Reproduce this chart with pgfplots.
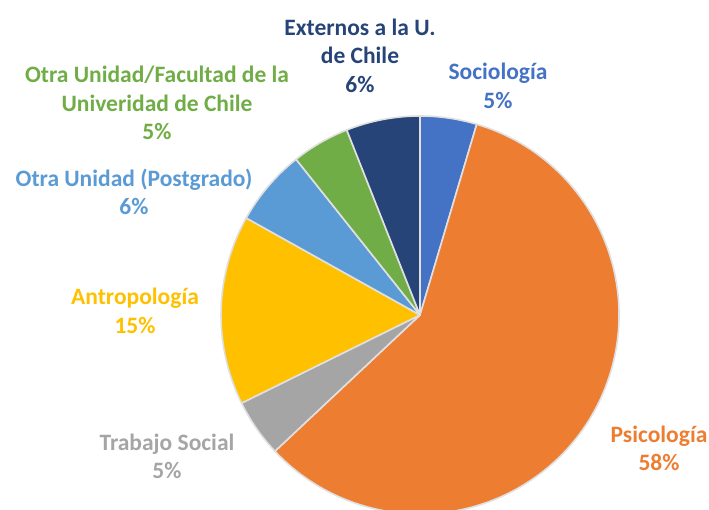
\documentclass[border=0pt]{standalone}
\usepackage{fontspec}
\setmainfont{Carlito}
\usepackage{pgfplots}
\usepackage{pgfplotstable}
\pgfplotsset{compat=1.18}
\definecolor{c1}{HTML}{4472C4}
\definecolor{c2}{HTML}{ED7D31}
\definecolor{c3}{HTML}{A5A5A5}
\definecolor{c4}{HTML}{FFC000}
\definecolor{c5}{HTML}{5B9BD5}
\definecolor{c6}{HTML}{70AD47}
\definecolor{c7}{HTML}{264478}
\pgfplotstableread{
pct  color
4.6  c1
58.4 c2
4.7  c3
15.4 c4
6.2  c5
4.7  c6
6.0  c7
}\piedata
\begin{document}
\begin{tikzpicture}
\begin{axis}[scale only axis, width=709pt, height=510pt,
  xmin=0, xmax=709, ymin=0, ymax=510, hide axis, clip=true]
\def\cum{0}
\pgfplotsforeachungrouped \i in {0,...,6}{%
  \pgfplotstablegetelem{\i}{pct}\of\piedata \let\p\pgfplotsretval
  \pgfplotstablegetelem{\i}{color}\of\piedata \let\c\pgfplotsretval
  \pgfmathsetmacro\a{90-3.6*\cum}%
  \pgfmathsetmacro\b{90-3.6*(\cum+\p)}%
  \pgfmathsetmacro\cum{\cum+\p}%
  \edef\temp{\noexpand\fill[\c, draw=white!88!black, line width=1.6pt, line join=round] (axis cs:420,195) -- (axis cs:{420+199*cos(\a)},{195+199*sin(\a)}) arc[start angle=\a, end angle=\b, radius=199pt] -- cycle;}%
  \temp
}
\tikzset{lab/.style={font=\fontsize{23.5}{28.5}\selectfont\bfseries, align=center, inner sep=0pt}}
\node[lab, text=c7] at (axis cs:360,454.5) {Externos a la U.\\de Chile\\6\%};
\node[lab, text=c1] at (axis cs:498,424) {Sociología\\5\%};
\node[lab, text=c6] at (axis cs:157,407) {Otra Unidad/Facultad de la\\Univeridad de Chile\\5\%};
\node[lab, text=c5] at (axis cs:134,318) {Otra Unidad (Postgrado)\\6\%};
\node[lab, text=c4] at (axis cs:135,199) {Antropología\\15\%};
\node[lab, text=c3] at (axis cs:167,53.5) {Trabajo Social\\5\%};
\node[lab, text=c2] at (axis cs:659,61.5) {Psicología\\58\%};
\end{axis}
\pgfresetboundingbox
\useasboundingbox (0,0) rectangle (709pt,510pt);
\end{tikzpicture}
\end{document}
